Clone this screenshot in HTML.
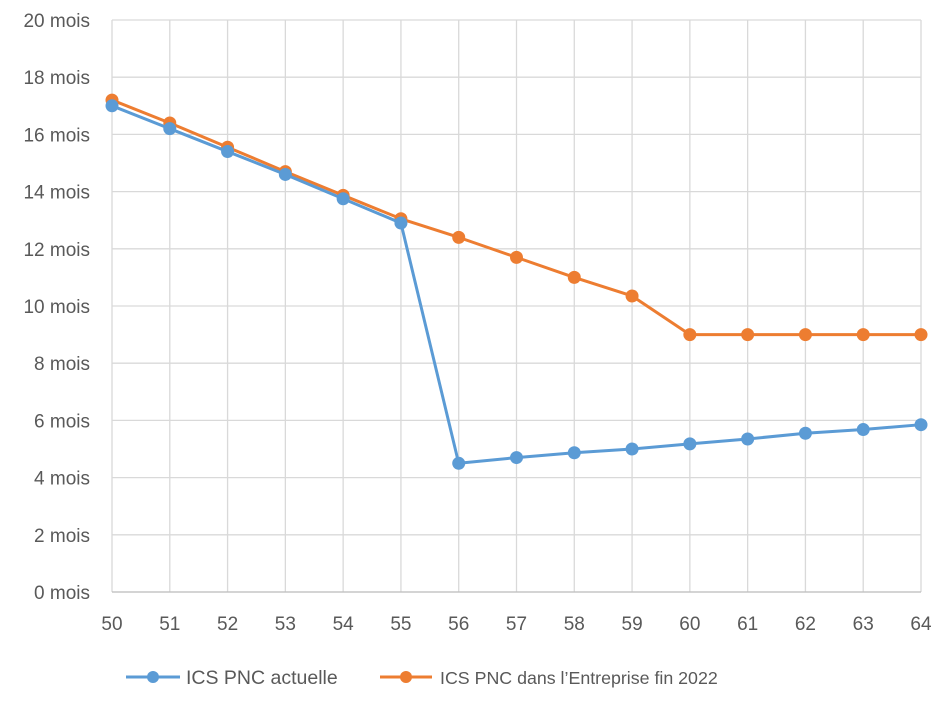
<!DOCTYPE html>
<html><head><meta charset="utf-8"><style>
body{margin:0;background:#fff;}
svg text{font-family:"Liberation Sans",sans-serif;fill:#595959;}
</style></head><body>
<svg width="943" height="704" xmlns="http://www.w3.org/2000/svg">
<g stroke="#d9d9d9" stroke-width="1.3" fill="none" id="grid"></g>
<g id="lbl"></g>
<g id="ser"></g>
<line x1="126" y1="677" x2="180" y2="677" stroke="#5b9bd5" stroke-width="3"/>
<circle cx="153" cy="677" r="6" fill="#5b9bd5"/>
<text x="186" y="684" font-size="19.5">ICS PNC actuelle</text>
<line x1="380" y1="677" x2="432" y2="677" stroke="#ed7d31" stroke-width="3"/>
<circle cx="406" cy="677" r="6" fill="#ed7d31"/>
<text x="440" y="684" font-size="17.8">ICS PNC dans l’Entreprise fin 2022</text>
</svg>
<script>
const ns="http://www.w3.org/2000/svg";
const X=i=>112+i*(921-112)/14, Y=v=>592-v*28.6;
const g=document.getElementById('grid'),l=document.getElementById('lbl'),s=document.getElementById('ser');
function el(p,t,a,txt){const e=document.createElementNS(ns,t);for(const k in a)e.setAttribute(k,a[k]);if(txt!=null)e.textContent=txt;p.appendChild(e);return e;}
for(let v=0;v<=20;v+=2){el(g,'line',{x1:112,x2:921,y1:Y(v),y2:Y(v)});el(l,'text',{x:90,y:Y(v)+7,'font-size':19,'text-anchor':'end'},v+' mois');}
for(let i=0;i<=14;i++){el(g,'line',{x1:X(i),x2:X(i),y1:Y(20),y2:Y(0)});el(l,'text',{x:X(i),y:630,'font-size':19,'text-anchor':'middle'},50+i);}
el(g,'line',{x1:112,x2:921,y1:Y(0),y2:Y(0),stroke:'#bfbfbf'});
const b=[17,16.2,15.4,14.6,13.75,12.9,4.5,4.7,4.87,5.0,5.18,5.35,5.55,5.68,5.85];
const o=[17.2,16.4,15.55,14.7,13.87,13.05,12.4,11.7,11.0,10.35,9,9,9,9,9];
for(const [d,c] of [[o,'#ed7d31'],[b,'#5b9bd5']]){
el(s,'polyline',{points:d.map((v,i)=>X(i)+','+Y(v)).join(' '),fill:'none',stroke:c,'stroke-width':3,'stroke-linejoin':'round'});
d.forEach((v,i)=>el(s,'circle',{cx:X(i),cy:Y(v),r:6.5,fill:c}));}
</script>
</body></html>
